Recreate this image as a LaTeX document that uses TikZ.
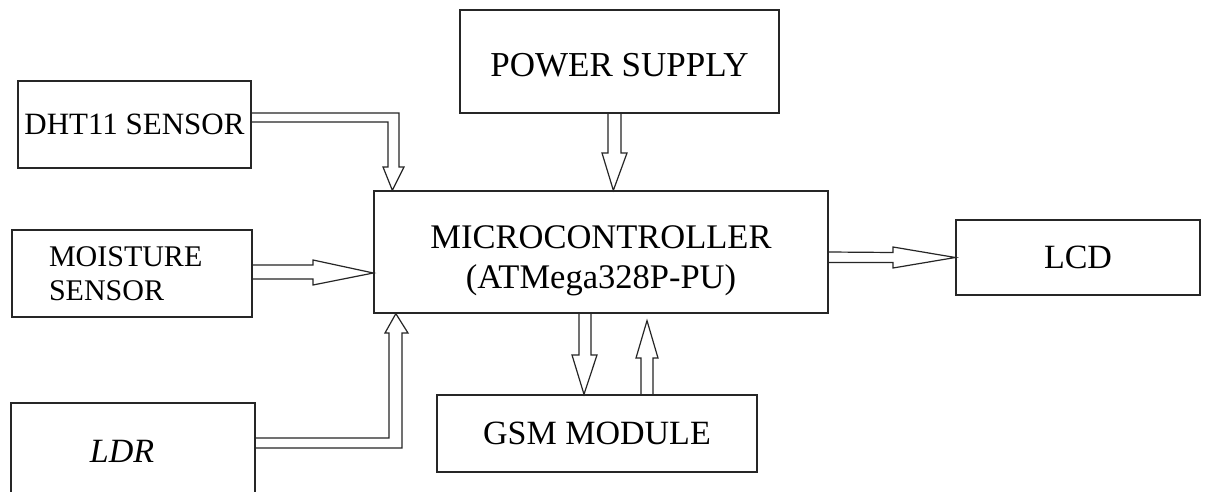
\documentclass[tikz,border=0pt]{standalone}
\usepackage{fontspec}
\setmainfont{Liberation Serif}
\begin{document}
\begin{tikzpicture}[x=1pt,y=-1pt,
  blk/.style={draw=black!85, line width=1.3pt, inner sep=0pt, align=center,
    font=\fontsize{34}{40}\selectfont},
  arr/.style={draw=black!85, line width=1.2pt, line join=miter}]
\clip (0,0) rectangle (1207,492);
\fill[white] (0,0) rectangle (1207,492);
% boxes
\node[blk, minimum width=233pt, minimum height=87pt, font=\fontsize{31}{38}\selectfont] (dht) at (134.5,124.5) {DHT11 SENSOR};
\node[blk, minimum width=240pt, minimum height=87pt, text width=166pt, align=left, inner xsep=37pt, font=\fontsize{30}{34}\selectfont] (moist) at (132,273.5) {MOISTURE\\SENSOR};
\node[blk, minimum width=244pt, minimum height=97pt] (ldr) at (133,451.5) {\itshape LDR\hspace*{22pt}};
\node[blk, minimum width=319pt, minimum height=103pt, font=\fontsize{35}{40}\selectfont] (power) at (619.5,61.5) {\rule{0pt}{30pt}POWER SUPPLY};
\node[blk, minimum width=454pt, minimum height=122pt, font=\fontsize{34.5}{40}\selectfont] (micro) at (601,252) {\rule{0pt}{40pt}MICROCONTROLLER\\(ATMega328P-PU)};
\node[blk, minimum width=244pt, minimum height=75pt] (lcd) at (1078,257.5) {LCD};
\node[blk, minimum width=320pt, minimum height=77pt] (gsm) at (597,433.5) {GSM MODULE};
% DHT11 -> micro
\draw[arr] ([yshift=11.5pt]dht.east) -- (399,113) -- (399,167) -- (404,167)
  -- ([xshift=19pt]micro.north west) -- (383,167) -- (388,167) -- (388,122)
  -- ([yshift=2.5pt]dht.east);
% moisture -> micro
\draw[arr] ([yshift=8.5pt]moist.east) -- (313,265) -- (313,260)
  -- ([yshift=-21pt]micro.west) -- (313,285) -- (313,279)
  -- ([yshift=-5.5pt]moist.east);
% power -> micro
\draw[arr] ([xshift=-11.5pt]power.south) -- (608,153) -- (602,153)
  -- ([xshift=240pt]micro.north west) -- (627,153) -- (621,153)
  -- ([xshift=1.5pt]power.south);
% micro -> lcd
\draw[arr] ([yshift=0pt]micro.east) -- (893,252.5) -- (893,247)
  -- (lcd.west) -- (893,268) -- (893,262.5)
  -- ([yshift=-10.5pt]micro.east);
% micro -> gsm
\draw[arr] ([xshift=-22pt]micro.south) -- (579,355) -- (572,355)
  -- ([xshift=-13pt]gsm.north) -- (597,355) -- (591,355)
  -- ([xshift=-10pt]micro.south);
% gsm -> micro
\draw[arr] ([xshift=44pt]gsm.north) -- (641,358) -- (636,358)
  -- ([xshift=46pt,yshift=-7pt]micro.south) -- (658,358) -- (653,358)
  -- ([xshift=56pt]gsm.north);
% ldr -> micro
\draw[arr] ([yshift=13.5pt]ldr.east) -- (389,438) -- (389,333) -- (385,333)
  -- ([xshift=22.5pt]micro.south west) -- (408,333) -- (402,333) -- (402,448)
  -- ([yshift=3.5pt]ldr.east);
\end{tikzpicture}
\end{document}
